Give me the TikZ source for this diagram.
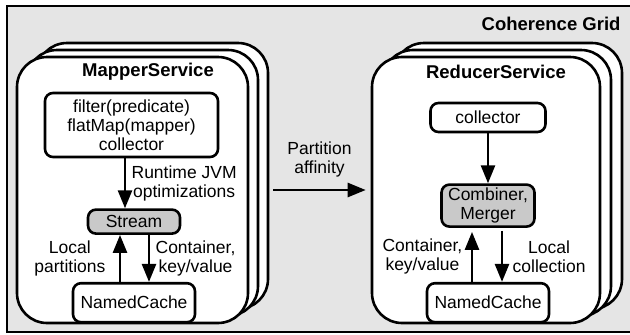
\documentclass[tikz,border=0pt]{standalone}
\usepackage{fontspec}
\setmainfont{Liberation Sans}
\usetikzlibrary{positioning, arrows.meta}

\tikzset{
	service/.style={draw, fill=white, line width=2.6pt, rounded corners=30pt,
		minimum width=231pt, minimum height=266pt},
	op/.style={draw, fill=white, line width=2.6pt, rounded corners=8pt,
		align=center, inner sep=2pt},
	core/.style={op, fill=gray!42},
	title/.style={font=\fontsize{18.5}{20}\selectfont\bfseries},
}

\begin{document}
\begin{tikzpicture}[x=1pt, y=-1pt, font=\fontsize{17.5}{19}\selectfont,
	>={Triangle[length=18pt, width=14pt]}]
	\useasboundingbox (0,0) rectangle (630,335);
	\draw[line width=2.6pt, fill=gray!20] (7,6) rectangle (636,332);
	\node[title, anchor=east] (grid) at (624,24) {Coherence Grid};

	% stacked service instances
	\foreach \k in {2,1} {
		\node[service] (m\k) at (132.5+10*\k, 190-7*\k) {};
		\node[service, minimum width=228pt] (r\k) at (486+11*\k, 190-7*\k) {};
	}
	\node[service] (mapper) at (132.5,190) {};
	\node[service, minimum width=228pt] (reducer) at (486,190) {};

	\node[title] (mtitle) at (148,72) {MapperService};
	\node[title] (rtitle) at (496,72) {ReducerService};

	% mapper side
	\node[op, minimum width=173pt, minimum height=64pt] (ops) at (131.5,125)
		{filter(predicate)\\flatMap(mapper)\\collector};
	\node[core, minimum width=92pt, minimum height=24pt, below=50pt of ops, xshift=2.5pt] (stream) {Stream};
	\node[op, minimum width=122pt, minimum height=39pt, below=47pt of stream] (mcache) {NamedCache};

	% reducer side
	\node[op, minimum width=115pt, minimum height=29pt] (coll) at (488,117.5) {collector};
	\node[core, minimum width=93pt, minimum height=42pt, below=50pt of coll] (comb) {Combiner,\\Merger};
	\node[op, minimum width=122pt, minimum height=39pt, below=54pt of comb] (rcache) {NamedCache};

	\draw [line width=2.6pt]
		([xshift=-6.5pt]ops.south) edge[->] node[right=2pt, align=center]{Runtime JVM\\optimizations} ([xshift=-9pt]stream.north)
		([xshift=-14pt]mcache.north) edge[->] node[left=10pt, align=center]{Local\\partitions} ([xshift=-14pt]stream.south)
		([xshift=15pt]stream.south) edge[->] node[right=2pt, align=center]{Container,\\key/value} ([xshift=15pt]mcache.north)

		([xshift=24pt]mapper.east) edge[->] node[above=8pt, align=center]{Partition\\affinity} ([xshift=-5pt]reducer.west)

		(coll) edge[->] (comb)
		([xshift=-16pt]rcache.north) edge[->] node[left=5pt, align=center]{Container,\\key/value} ([xshift=-16pt, yshift=-4pt]comb.south)
		([xshift=14pt, yshift=-3pt]comb.south) edge[->] node[right=6pt, align=center]{Local\\collection} ([xshift=14pt]rcache.north)
		;
\end{tikzpicture}
\end{document}
